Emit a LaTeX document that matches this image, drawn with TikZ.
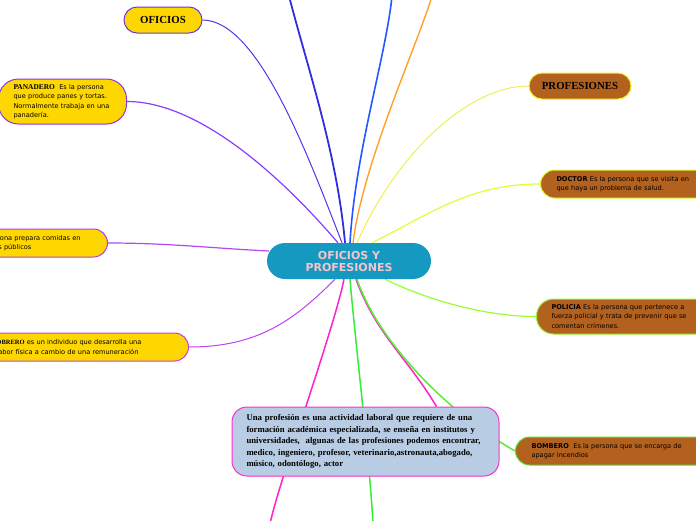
\documentclass[tikz,border=0pt]{standalone}
\usepackage{fontspec}
\setmainfont{Liberation Serif}
\setsansfont{DejaVu Sans}
\usepackage{tikz}
\usetikzlibrary{backgrounds}

\definecolor{oro}{HTML}{FFD700}
\definecolor{cafe}{HTML}{B3611F}
\definecolor{azulcentro}{HTML}{1599C0}
\definecolor{rosa}{HTML}{F6C4CC}
\definecolor{celeste}{HTML}{B8CCE4}
\definecolor{fucsia}{HTML}{FF2DCC}
\definecolor{bordeofi}{HTML}{6A3AD6}
\definecolor{bordepan}{HTML}{8A35EE}
\definecolor{bordecoc}{HTML}{B23DF0}
\definecolor{bordeobr}{HTML}{C63DEE}
\definecolor{bordeprof}{HTML}{F0F020}
\definecolor{bordedoc}{HTML}{D4FF30}
\definecolor{bordepol}{HTML}{9CF030}
\definecolor{bordebom}{HTML}{5AE033}
\definecolor{ramaofi}{HTML}{5533EE}
\definecolor{ramaazul}{HTML}{2F2FE0}
\definecolor{ramacielo}{HTML}{2457FF}
\definecolor{ramanaranja}{HTML}{FFA126}
\definecolor{ramapan}{HTML}{8A3CFF}
\definecolor{ramacoc}{HTML}{B048F5}
\definecolor{ramaobr}{HTML}{C042F0}
\definecolor{ramaprof}{HTML}{EEEE55}
\definecolor{ramadoc}{HTML}{DDFF33}
\definecolor{ramapol}{HTML}{99FF33}
\definecolor{ramafucsia}{HTML}{FF22CC}
\definecolor{ramaverde}{HTML}{33EE33}
\definecolor{ramabom}{HTML}{55EE33}

\tikzstyle{centro} = [fill=azulcentro, text=rosa, rounded corners=18pt, minimum width=164pt, minimum height=36pt, align=center, font=\sffamily\bfseries\fontsize{11}{12}\selectfont]
\tikzstyle{titulo} = [draw, rounded corners=13pt, minimum height=26pt, line width=1pt, font=\rmfamily\bfseries\fontsize{10.8}{12}\selectfont]
\tikzstyle{nota} = [draw, rounded corners=14pt, line width=1pt, inner xsep=16pt, inner ysep=3pt, align=left, font=\sffamily\fontsize{6.6}{9.5}\selectfont]
\tikzstyle{rama} = [line width=1.2pt]
\newcommand{\nombre}[1]{{\rmfamily\bfseries\fontsize{7.4}{9.5}\selectfont #1}}

\begin{document}
\begin{tikzpicture}[x=1pt, y=-1pt]
    \useasboundingbox (0,0) rectangle (696,520);
    % centro
    \node[centro] (main) at (349,261) {OFICIOS Y\\PROFESIONES};
    % oficios
    \node[titulo, fill=oro, draw=bordeofi, minimum width=78pt] (ofi) at (163,20) {OFICIOS};
    \node[nota, fill=oro, draw=bordepan, text width=98pt, inner xsep=15pt, minimum height=45pt, rounded corners=20pt, anchor=west] (pan) at (-2,101.5)
        {\nombre{PANADERO}\ \ Es la persona\\ que produce panes y tortas.\\ Normalmente trabaja en una\\ panadería.};
    \node[nota, fill=oro, draw=bordecoc, text width=114pt, minimum height=28pt, anchor=east] (coc) at (108,243)
        {la persona prepara comidas en\\ lugares públicos};
    \node[nota, fill=oro, draw=bordeobr, text width=176pt, minimum height=28pt, anchor=east] (obr) at (189,347)
        {{\rmfamily\bfseries\fontsize{6.5}{9.5}\selectfont OBRERO} es un individuo que desarrolla una\\ labor física a cambio de una remuneración};
    % profesiones
    \node[titulo, fill=cafe, draw=bordeprof, minimum width=102pt] (prof) at (580,86) {PROFESIONES};
    \node[nota, fill=cafe, draw=bordedoc, text width=170pt, minimum height=28pt, anchor=west] (doc) at (540,184)
        {\textbf{DOCTOR} Es la persona que se visita en\\ que haya un problema de salud.};
    \node[nota, fill=cafe, draw=bordepol, text width=170pt, minimum height=35pt, rounded corners=17pt, inner xsep=15pt, anchor=west] (pol) at (536,316.5)
        {\textbf{POLICIA} Es la persona que pertenece a\\ fuerza policial y trata de prevenir que se\\ comentan crímenes.};
    \node[nota, fill=cafe, draw=bordebom, text width=170pt, minimum height=28pt, anchor=west] (bom) at (515,451)
        {\textbf{BOMBERO}\ \ Es la persona que se encarga de\\ apagar incendios};
    \node[draw=fucsia, fill=celeste, line width=1pt, rounded corners=15pt, minimum width=267pt, minimum height=69pt, text width=238pt, inner xsep=14.5pt, align=left,
        font=\rmfamily\bfseries\fontsize{8.7}{11.5}\selectfont] (desc) at (365.5,441.5)
        {Una profesión es una actividad laboral que requiere de una\\ formación académica especializada, se enseña en institutos y\\ universidades,\ \ algunas de las profesiones podemos encontrar,\\ medico, ingeniero, profesor, veterinario,astronauta,abogado,\\ músico, odontólogo, actor};
    % ramas que salen del recuadro
    \coordinate (arr1) at (289,-4);
    \coordinate (arr2) at (392,-4);
    \coordinate (arr3) at (432,-4);
    \coordinate (aba1) at (270,524);
    \coordinate (aba2) at (373,524);
    \begin{scope}[on background layer]
        \draw[rama, line width=1pt, ramaofi] ([xshift=-7pt]main.north) .. controls +(-35,-90) and +(55,0) .. (ofi.east);
        \draw[rama, line width=1.8pt, ramaazul] ([xshift=-4pt]main.north) .. controls +(-8,-90) and +(18,70) .. (arr1);
        \draw[rama, line width=1.6pt, ramacielo] ([xshift=1pt]main.north) .. controls +(5,-90) and +(-6,60) .. (arr2);
        \draw[rama, line width=1.4pt, ramanaranja] ([xshift=4pt]main.north) .. controls +(10,-80) and +(-15,50) .. (arr3);
        \draw[rama, ramapan] ([xshift=-11pt]main.north) .. controls +(-60,-70) and +(70,0) .. (pan.east);
        \draw[rama, ramacoc] ([xshift=2pt,yshift=10pt]main.west) .. controls +(-60,-3) and +(60,0) .. (coc.east);
        \draw[rama, line width=1pt, ramaobr] ([xshift=-14pt]main.south) .. controls +(-40,40) and +(70,0) .. (obr.east);
        \draw[rama, line width=1pt, ramaprof] ([xshift=8pt]main.north) .. controls +(40,-90) and +(-60,0) .. (prof.west);
        \draw[rama, ramadoc] ([xshift=23pt]main.north) .. controls +(60,-30) and +(-70,0) .. (doc.west);
        \draw[rama, ramapol] ([xshift=36pt]main.south) .. controls +(30,15) and +(-60,0) .. (pol.west);
        \draw[rama, line width=1.5pt, ramafucsia] ([xshift=-5pt]main.south) .. controls +(-10,50) and +(8,-40) .. (aba1);
        \draw[rama, line width=1.5pt, ramaverde] ([xshift=1pt]main.south) .. controls +(5,60) and +(-3,-60) .. (aba2);
        \draw[rama, line width=1.5pt, ramafucsia] ([xshift=7pt]main.south) .. controls +(20,55) and +(-30,-50) .. ([xshift=71pt]desc.north);
        \draw[rama, line width=1.5pt, ramabom] ([xshift=8pt]main.south) .. controls +(20,60) and +(-70,-40) .. (bom.west);
    \end{scope}
\end{tikzpicture}
\end{document}
